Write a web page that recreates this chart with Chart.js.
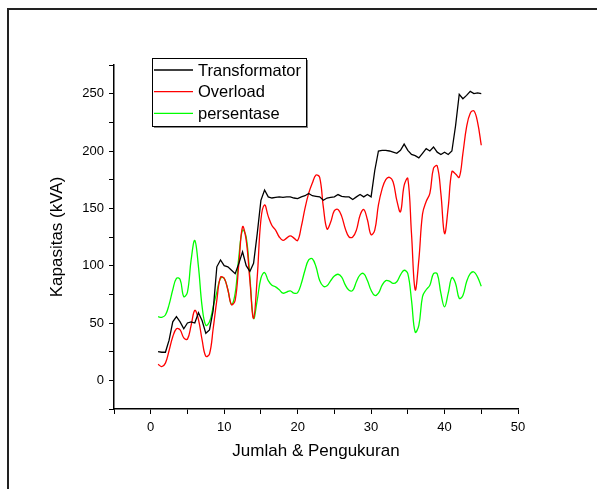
<!DOCTYPE html>
<html>
<head>
<meta charset="utf-8">
<script src="https://cdn.jsdelivr.net/npm/chart.js@4.4.1/dist/chart.umd.min.js"></script>
<style>
	html, body { margin: 0; padding: 0; background: #fff; overflow: hidden; }
	#frame { position: absolute; left: 7px; top: 8px; width: 700px; height: 600px; border: 2px solid #222; }
	#wrap { position: absolute; left: 0; top: 0; width: 597px; height: 489px; }
</style>
</head>
<body>
<div id="frame"></div>
<div id="wrap"><canvas id="kvaChart" width="597" height="489"></canvas></div>
<script>
"use strict";

var FONT = "'Liberation Sans', Arial, sans-serif";

// measurement index (x)
var xValues = [
	1, 1.5, 2, 2.5, 3, 3.5, 4, 4.5, 5, 5.5,
	6, 6.5, 7, 7.5, 8, 8.5, 9, 9.5, 10, 10.5,
	11, 11.5, 12, 12.5, 13, 13.5, 14, 14.5, 15, 15.5,
	16, 16.5, 17, 17.5, 18, 18.5, 19, 19.5, 20, 20.5,
	21, 21.5, 22, 22.5, 23, 23.5, 24, 24.5, 25, 25.5,
	26, 26.5, 27, 27.5, 28, 28.5, 29, 29.5, 30, 30.5,
	31, 31.5, 32, 32.5, 33, 33.5, 34, 34.5, 35, 35.5,
	36, 36.5, 37, 37.5, 38, 38.5, 39, 39.5, 40, 40.5,
	41, 41.5, 42, 42.5, 43, 43.5, 44, 44.5, 45
];

var transformator = [
	25, 24.5, 24.5, 35, 51, 55.5, 51, 45, 50, 51,
	50, 59, 52, 41, 44, 61, 99, 105, 100, 99,
	96, 93, 102, 112, 100, 95, 102, 128, 157, 166,
	160, 159, 159.5, 160, 159.5, 160, 160, 159, 158.5, 160,
	161, 163, 161, 160.5, 160, 157, 159, 159.5, 160, 162,
	160.5, 160, 160, 157.7, 160, 162, 160, 162, 160, 183,
	200, 200.5, 200.6, 200, 199, 198, 200.6, 206, 200.6, 197,
	196, 194, 198, 202, 200, 203.5, 199, 197, 199, 197,
	200, 222, 249.5, 245.6, 248.5, 252, 250, 250.6, 250
];

var overload = [
	14, 12, 15, 26, 38, 45, 44, 37, 36, 48,
	61, 53, 35, 21, 23, 45, 70, 90, 89, 79,
	66, 70, 102, 134, 122, 87, 54, 90, 140, 153,
	143, 135, 131, 125, 122, 124, 126, 124, 122, 134,
	150, 163, 172, 179, 177, 151, 132, 138, 148, 149,
	143, 132, 125, 125, 131, 144, 149, 140, 127, 131,
	153, 167, 175, 177, 173, 157, 147, 170, 176, 128,
	79, 105, 145, 156, 163, 185, 187, 163, 128, 151,
	182, 180, 177, 198, 221, 233, 235, 225, 205
];

var persentase = [
	55.5, 55, 57, 66, 79, 89, 88, 73, 77, 105,
	122, 99, 64, 48, 51, 64, 77, 89, 89, 79,
	66, 76, 108, 131, 125, 90, 54, 70, 89, 94,
	87, 83, 81.5, 79, 76, 77, 78, 76, 76.5, 84.5,
	96, 105, 106, 99, 87, 82, 82.5, 87, 91, 92.5,
	90, 83, 78.5, 78.5, 86, 92, 93, 87, 78.5, 74,
	76, 83, 87, 86.5, 84.5, 86, 92, 96, 93, 70,
	42, 48, 73, 79, 83, 93, 93, 76, 64, 76,
	89.5, 84.5, 71.5, 74, 86, 93, 94.5, 90, 82
];

var xMajor = [0, 10, 20, 30, 40, 50];
var yMajor = [0, 50, 100, 150, 200, 250];

function toPoints(values) {
	return values.map(function (v, i) {
		return { x: xValues[i], y: v };
	});
}

// legend drawn as a framed box inside the plot, like the original figure
var boxLegend = {
	id: "boxLegend",
	afterDraw: function (chart) {
		var ctx = chart.ctx;
		var bx = 152, by = 58, bw = 154, bh = 68;
		ctx.save();
		ctx.fillStyle = "#888";
		ctx.fillRect(bx + 2, by + 2, bw, bh);
		ctx.fillStyle = "#fff";
		ctx.fillRect(bx, by, bw, bh);
		ctx.strokeStyle = "#000";
		ctx.lineWidth = 1;
		ctx.strokeRect(bx + 0.5, by + 0.5, bw, bh);
		ctx.font = "16.5px " + FONT;
		ctx.textBaseline = "middle";
		chart.data.datasets.forEach(function (ds, i) {
			var y = 70 + i * 21.7;
			ctx.strokeStyle = ds.borderColor;
			ctx.lineWidth = 1.3;
			ctx.beginPath();
			ctx.moveTo(154, y);
			ctx.lineTo(193, y);
			ctx.stroke();
			ctx.fillStyle = "#000";
			ctx.fillText(ds.label, 198, y + 1);
		});
		ctx.restore();
	},
};

function initKvaChart() {
	var kvaChart = document.getElementById("kvaChart");
	new Chart(kvaChart, {
		type: "line",
		data: {
			datasets: [
				{
					label: "Transformator",
					data: toPoints(transformator),
					borderColor: "#000000",
					borderWidth: 1.3,
					tension: 0,
				},
				{
					label: "Overload",
					data: toPoints(overload),
					borderColor: "#ff0000",
					borderWidth: 1.3,
					tension: 0.4,
				},
				{
					label: "persentase",
					data: toPoints(persentase),
					borderColor: "#00ff00",
					borderWidth: 1.3,
					tension: 0.4,
				},
			],
		},
		options: {
			responsive: false,
			animation: false,
			layout: {
				padding: { left: 0, top: 65, right: 79, bottom: 0 },
			},
			elements: {
				point: { radius: 0 },
			},
			scales: {
				x: {
					type: "linear",
					min: -5,
					max: 50,
					afterFit: function (scale) {
						scale.height = 80;
					},
					grid: {
						drawOnChartArea: false,
						color: "#000",
						tickLength: 5,
						tickWidth: 1,
					},
					border: {
						color: "#000",
						width: 1.5,
					},
					ticks: {
						stepSize: 5,
						autoSkip: false,
						maxRotation: 0,
						padding: 6,
						color: "#000",
						font: { family: FONT, size: 13 },
						callback: function (v) {
							return xMajor.indexOf(v) >= 0 ? String(v) : "";
						},
					},
					title: {
						display: true,
						text: "Jumlah & Pengukuran",
						color: "#000",
						font: { family: FONT, size: 17 },
						padding: { top: 0, bottom: 27 },
					},
				},
				y: {
					min: -25,
					max: 275,
					afterFit: function (scale) {
						scale.width = 114;
					},
					grid: {
						drawOnChartArea: false,
						color: "#000",
						tickLength: 5,
						tickWidth: 1,
					},
					border: {
						color: "#000",
						width: 1.5,
					},
					ticks: {
						stepSize: 25,
						autoSkip: false,
						padding: 5,
						color: "#000",
						font: { family: FONT, size: 13 },
						callback: function (v) {
							return yMajor.indexOf(v) >= 0 ? String(v) : "";
						},
					},
					title: {
						display: true,
						text: "Kapasitas (kVA)",
						color: "#000",
						font: { family: FONT, size: 17 },
						padding: { top: 47, bottom: 0 },
					},
				},
			},
			plugins: {
				legend: { display: false },
				tooltip: { enabled: false },
			},
		},
		plugins: [boxLegend],
	});
}

(function () {
	initKvaChart();
})();
</script>
</body>
</html>
